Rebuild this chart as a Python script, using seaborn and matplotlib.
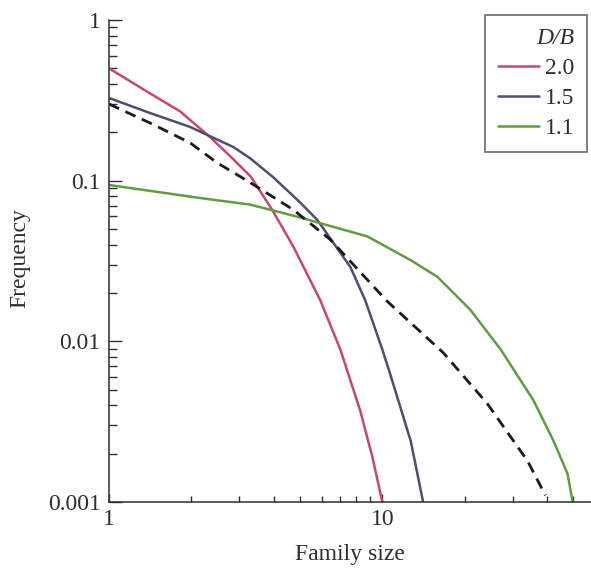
import numpy as np
import pandas as pd
import matplotlib
matplotlib.use("Agg")
import matplotlib.pyplot as plt
import seaborn as sns
from matplotlib.ticker import FixedLocator, FixedFormatter, NullFormatter
from matplotlib.lines import Line2D

# ---- data ----
size_20 = [1, 1.41, 1.82, 2.34, 2.8, 3.3, 3.95, 4.72, 5.93, 7.02, 8.3, 9.2, 10]
freq_20 = [0.50, 0.35, 0.27, 0.187, 0.14, 0.106, 0.066, 0.039, 0.018, 0.0089, 0.0037, 0.0019, 0.001]

size_15 = [1, 1.41, 1.98, 2.85, 3.28, 3.99, 5.01, 5.78, 7.64, 8.66, 10, 10.7, 12.7, 14.1]
freq_15 = [0.327, 0.264, 0.216, 0.162, 0.138, 0.105, 0.073, 0.057, 0.029, 0.018, 0.0089, 0.0062, 0.0024, 0.001]

size_11 = [1, 2.15, 3.28, 5.01, 5.78, 8.81, 12.7, 15.9, 21.0, 27.1, 35.7, 42.3, 47.6, 49.7]
freq_11 = [0.094, 0.078, 0.071, 0.059, 0.055, 0.045, 0.032, 0.0252, 0.0157, 0.0089, 0.0043, 0.0024, 0.0015, 0.001]

size_ref = [1, 1.41, 1.98, 2.49, 3.2, 4.72, 6.45, 10.4, 16.7, 24.2, 34, 39.5]
freq_ref = [0.30, 0.229, 0.172, 0.129, 0.10, 0.066, 0.043, 0.0178, 0.0085, 0.0041, 0.0018, 0.0011]

series_labels = ["2.0", "1.5", "1.1"]
legend_title = "D/B"
x_major = [1, 10]
x_major_labels = ["1", "10"]
x_minor = [2, 3, 4, 5, 6, 7, 8, 9, 20, 30, 40, 50]
y_major = [0.001, 0.01, 0.1, 1]
y_major_labels = ["0.001", "0.01", "0.1", "1"]
y_minor = [m * d for d in [0.001, 0.01, 0.1] for m in range(2, 10)]

colors = ["#c9476c", "#4b4f72", "#5f9b3f"]
ink = "#2e2e2e"

sns.set_theme(style="white")
plt.rcParams["font.family"] = ["Liberation Serif", "DejaVu Serif"]

fig = plt.figure(figsize=(5.91, 5.69), dpi=100)
ax = fig.add_axes([109 / 591, 1 - 502 / 569, 1 - 109 / 591, (502 - 20) / 569])

frames = []
for lab, xs, ys in zip(series_labels, [size_20, size_15, size_11], [freq_20, freq_15, freq_11]):
    frames.append(pd.DataFrame({"size": xs, "freq": ys, "DB": lab}))
df = pd.concat(frames, ignore_index=True)

sns.lineplot(data=df, x="size", y="freq", hue="DB", hue_order=series_labels,
             palette=colors, linewidth=1.8, ax=ax, sort=False, legend=False)
sns.lineplot(x=size_ref, y=freq_ref, color="#1a1a1a", linewidth=2.0,
             linestyle=(0, (4, 2.5)), ax=ax, sort=False)

ax.set_xscale("log")
ax.set_yscale("log")
ax.set_xlim(1, 58)
ax.set_ylim(0.001, 1)

ax.xaxis.set_major_locator(FixedLocator(x_major))
ax.xaxis.set_major_formatter(FixedFormatter(x_major_labels))
ax.xaxis.set_minor_locator(FixedLocator(x_minor))
ax.xaxis.set_minor_formatter(NullFormatter())
ax.yaxis.set_major_locator(FixedLocator(y_major))
ax.yaxis.set_major_formatter(FixedFormatter(y_major_labels))
ax.yaxis.set_minor_locator(FixedLocator(y_minor))
ax.yaxis.set_minor_formatter(NullFormatter())

ax.tick_params(axis="both", which="both", bottom=True, left=True, top=False, right=False,
               direction="in", width=1, color=ink)
ax.tick_params(axis="both", which="major", labelsize=17, labelcolor=ink)
ax.tick_params(axis="y", which="major", pad=6, length=9)
ax.tick_params(axis="x", which="major", pad=5, length=6)
ax.tick_params(axis="y", which="minor", length=5.5)
ax.tick_params(axis="x", which="minor", length=4)

sns.despine(ax=ax)
for s in ["left", "bottom"]:
    ax.spines[s].set_color(ink)
    ax.spines[s].set_linewidth(1.1)

ax.set_xlabel("Family size", fontsize=17, color=ink, labelpad=10)
ax.set_ylabel("Frequency", fontsize=17, color=ink)
ax.yaxis.set_label_coords((30 - 109) / 482, (502 - 258) / 482)

handles = [Line2D([], [], color=c, linewidth=1.8) for c in colors]
leg = ax.legend(handles, series_labels, title=legend_title,
                loc="upper right", bbox_to_anchor=(587 / 591, 1 - 15 / 569),
                bbox_transform=fig.transFigure, borderaxespad=0,
                frameon=True, fancybox=False, fontsize=17,
                title_fontproperties={"style": "italic", "size": 17,
                                      "family": "Liberation Serif"},
                handlelength=1.75, handletextpad=0.25, labelspacing=0.36,
                borderpad=0.54, alignment="right")
leg.get_frame().set_edgecolor("#444444")
leg.get_frame().set_linewidth(1.2)
for t in leg.get_texts():
    t.set_color(ink)
leg.get_title().set_color(ink)

fig.savefig("out.png", dpi=100)
